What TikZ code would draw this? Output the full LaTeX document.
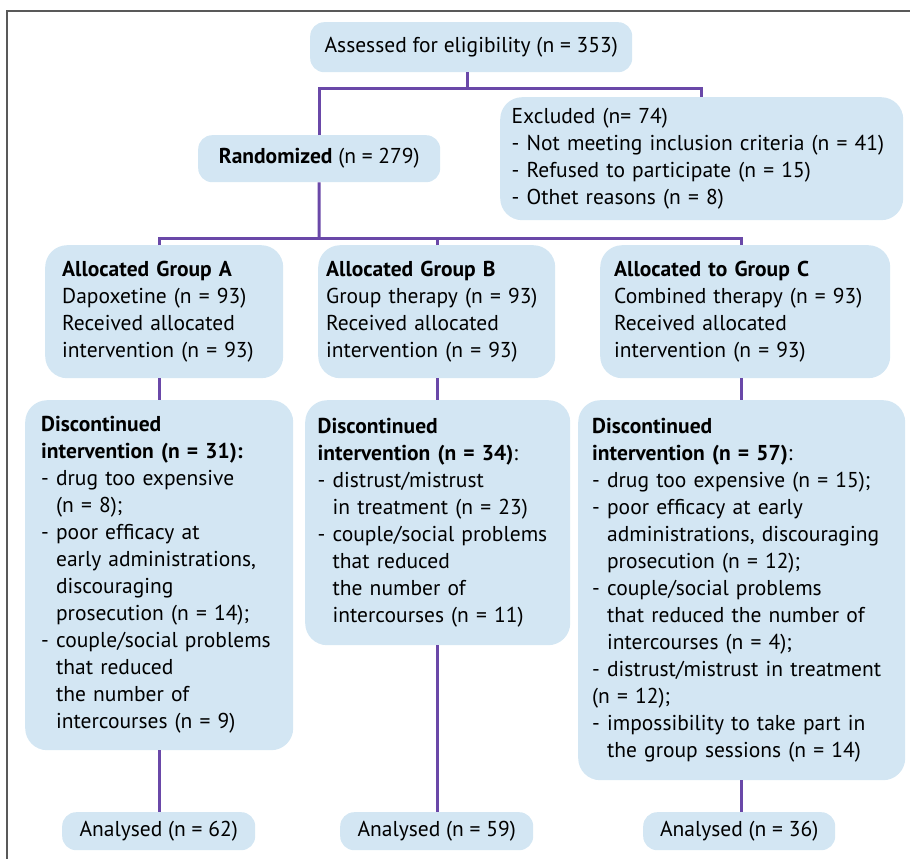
\documentclass[tikz,border=0pt]{standalone}
\usepackage{fontspec}
\setmainfont{PT Sans}
\usetikzlibrary{positioning}
\definecolor{boxblue}{HTML}{D3E6F3}
\definecolor{linkpurple}{HTML}{6A48A8}
\newcommand{\hang}{\hphantom{-\ }}
\tikzset{
  flowbox/.style={rectangle, rounded corners=22pt, fill=boxblue, draw=none,
    align=left, anchor=north west, inner xsep=14pt, inner ysep=6pt,
    font=\fontsize{21.5}{27}\selectfont},
  smallbox/.style={flowbox, align=center, rounded corners=14pt, inner xsep=4pt},
  link/.style={linkpurple, line width=3pt},
}

\begin{document}
\begin{tikzpicture}[x=1pt, y=-1pt]
\useasboundingbox (0,0) rectangle (910,859);
\draw[black!65, line width=2pt] (7,859) -- (7,11) -- (910,11);

\node[smallbox, minimum width=322pt, minimum height=50pt] (assessed) at (310,22) {Assessed for eligibility (n = 353)};
\node[smallbox, minimum width=242pt, minimum height=47pt] (random) at (198,135) {\textbf{Randomized} (n = 279)};
\node[flowbox, text width=380pt, minimum height=123pt, inner xsep=11.5pt] (excl) at (500,97) {Excluded (n= 74)\\- Not meeting inclusion criteria (n = 41)\\- Refused to participate (n = 15)\\- Othet reasons (n = 8)};

\node[flowbox, text width=204pt, minimum height=133pt, inner xsep=17pt] (grpA) at (45,245) {\textbf{Allocated Group A}\\Dapoxetine (n = 93)\\Received allocated\\intervention (n = 93)};
\node[flowbox, text width=221pt, minimum height=133pt, inner xsep=8pt] (grpB) at (318,245) {\textbf{Allocated Group B}\\Group therapy (n = 93)\\Received allocated\\intervention (n = 93)};
\node[flowbox, text width=262pt, minimum height=133pt] (grpC) at (600,245) {\textbf{Allocated to Group C}\\Combined therapy (n = 93)\\Received allocated\\intervention (n = 93)};

\node[flowbox, text width=236pt, minimum height=350pt, inner xsep=16pt] (discA) at (25,400) {\textbf{Discontinued}\\\textbf{intervention (n = 31):}\\- drug too expensive\\\hang(n = 8);\\- poor efficacy at\\\hang early administrations,\\\hang discouraging\\\hang prosecution (n = 14);\\- couple/social problems\\\hang that reduced\\\hang the number of\\\hang intercourses (n = 9)};
\node[flowbox, text width=240pt, minimum height=245pt, inner xsep=12.5pt] (discB) at (305,400) {\textbf{Discontinued}\\\textbf{intervention (n = 34)}:\\- distrust/mistrust\\\hang in treatment (n = 23)\\- couple/social problems\\\hang that reduced\\\hang the number of\\\hang intercourses (n = 11)};
\node[flowbox, text width=299pt, minimum height=380pt] (discC) at (578,400) {\textbf{Discontinued}\\\textbf{intervention (n = 57)}:\\- drug too expensive (n = 15);\\- poor efficacy at early\\\hang administrations, discouraging\\\hang prosecution (n = 12);\\- couple/social problems\\\hang that reduced the number of\\\hang intercourses (n = 4);\\- distrust/mistrust in treatment\\(n = 12);\\- impossibility to take part in\\\hang the group sessions (n = 14)};

\node[smallbox, minimum width=193pt, minimum height=38pt] (anaA) at (62,812) {Analysed (n = 62)};
\node[smallbox, minimum width=193pt, minimum height=38pt] (anaB) at (340,812) {Analysed (n = 59)};
\node[smallbox, minimum width=192pt, minimum height=38pt] (anaC) at (643,812) {Analysed (n = 36)};

% connectors
\coordinate (split) at (467,88);
\coordinate (branch) at (319,238);
\draw[link] (assessed.south -| split) -- (split);
\draw[link] (random.north) |- (split) -| (excl.north);
\draw[link] (random.south) -- (branch);
\draw[link] (discA.north |- grpA.north) |- (branch) -| (discC.north |- grpC.north);
\draw[link] (discB.north |- grpB.north) -- (discB.north |- branch);
\draw[link] (discA.north |- grpA.south) -- (discA.north);
\draw[link] (discB.north |- grpB.south) -- (discB.north);
\draw[link] (discC.north |- grpC.south) -- (discC.north);
\draw[link] (discA.south) -- (discA.south |- anaA.north);
\draw[link] (discB.south) -- (discB.south |- anaB.north);
\draw[link] (discC.south) -- (discC.south |- anaC.north);
\end{tikzpicture}
\end{document}
